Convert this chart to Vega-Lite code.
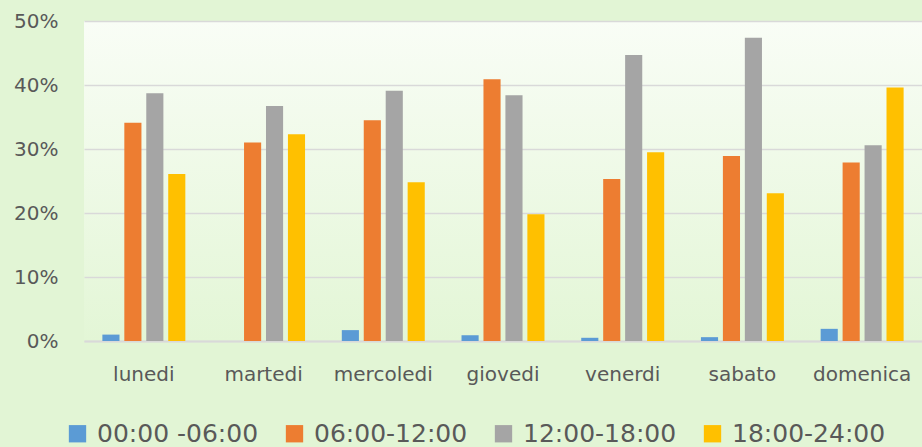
{
  "$schema": "https://vega.github.io/schema/vega-lite/v6.json",
  "autosize": "none",
  "width": 838,
  "height": 320,
  "padding": {"left": 84, "top": 21, "right": 0, "bottom": 106},
  "background": "#e2f5d5",
  "config": {
    "view": {
      "stroke": null,
      "fill": {
        "gradient": "linear",
        "x1": 0, "y1": 0, "x2": 0, "y2": 1,
        "stops": [
          {"offset": 0, "color": "#f9fdf6"},
          {"offset": 1, "color": "#e3f6d6"}
        ]
      }
    },
    "axis": {
      "labelFont": "DejaVu Sans",
      "labelColor": "#595959",
      "labelFontSize": 20,
      "ticks": false,
      "title": null
    }
  },
  "data": {
    "values": [
      {"day": "lunedi", "slot": "00:00 -06:00", "value": 0.010},
      {"day": "lunedi", "slot": "06:00-12:00", "value": 0.341},
      {"day": "lunedi", "slot": "12:00-18:00", "value": 0.387},
      {"day": "lunedi", "slot": "18:00-24:00", "value": 0.261},
      {"day": "martedi", "slot": "00:00 -06:00", "value": 0.0},
      {"day": "martedi", "slot": "06:00-12:00", "value": 0.310},
      {"day": "martedi", "slot": "12:00-18:00", "value": 0.367},
      {"day": "martedi", "slot": "18:00-24:00", "value": 0.323},
      {"day": "mercoledi", "slot": "00:00 -06:00", "value": 0.017},
      {"day": "mercoledi", "slot": "06:00-12:00", "value": 0.345},
      {"day": "mercoledi", "slot": "12:00-18:00", "value": 0.391},
      {"day": "mercoledi", "slot": "18:00-24:00", "value": 0.248},
      {"day": "giovedi", "slot": "00:00 -06:00", "value": 0.009},
      {"day": "giovedi", "slot": "06:00-12:00", "value": 0.409},
      {"day": "giovedi", "slot": "12:00-18:00", "value": 0.384},
      {"day": "giovedi", "slot": "18:00-24:00", "value": 0.198},
      {"day": "venerdi", "slot": "00:00 -06:00", "value": 0.005},
      {"day": "venerdi", "slot": "06:00-12:00", "value": 0.253},
      {"day": "venerdi", "slot": "12:00-18:00", "value": 0.447},
      {"day": "venerdi", "slot": "18:00-24:00", "value": 0.295},
      {"day": "sabato", "slot": "00:00 -06:00", "value": 0.006},
      {"day": "sabato", "slot": "06:00-12:00", "value": 0.289},
      {"day": "sabato", "slot": "12:00-18:00", "value": 0.474},
      {"day": "sabato", "slot": "18:00-24:00", "value": 0.231},
      {"day": "domenica", "slot": "00:00 -06:00", "value": 0.019},
      {"day": "domenica", "slot": "06:00-12:00", "value": 0.279},
      {"day": "domenica", "slot": "12:00-18:00", "value": 0.306},
      {"day": "domenica", "slot": "18:00-24:00", "value": 0.396}
    ]
  },
  "mark": {"type": "bar"},
  "encoding": {
    "x": {
      "field": "day",
      "type": "nominal",
      "sort": ["lunedi", "martedi", "mercoledi", "giovedi", "venerdi", "sabato", "domenica"],
      "scale": {"paddingInner": 0.307, "paddingOuter": 0.1535},
      "axis": {
        "labelAngle": 0,
        "labelPadding": 23,
        "domain": true,
        "domainColor": "#d9d9d9",
        "domainWidth": 2,
        "grid": false
      }
    },
    "xOffset": {
      "field": "slot",
      "type": "nominal",
      "sort": ["00:00 -06:00", "06:00-12:00", "12:00-18:00", "18:00-24:00"],
      "scale": {"paddingInner": 0.22, "paddingOuter": 0}
    },
    "y": {
      "field": "value",
      "type": "quantitative",
      "scale": {"domain": [0, 0.5], "nice": false},
      "axis": {
        "format": "~%",
        "values": [0, 0.1, 0.2, 0.3, 0.4, 0.5],
        "labelPadding": 26,
        "domain": false,
        "grid": true,
        "gridColor": "#d9d9d9",
        "gridWidth": 1.6
      }
    },
    "color": {
      "field": "slot",
      "type": "nominal",
      "sort": ["00:00 -06:00", "06:00-12:00", "12:00-18:00", "18:00-24:00"],
      "scale": {
        "domain": ["00:00 -06:00", "06:00-12:00", "12:00-18:00", "18:00-24:00"],
        "range": ["#5b9bd5", "#ed7d31", "#a5a5a5", "#ffc000"]
      },
      "legend": {
        "title": null,
        "orient": "none",
        "direction": "horizontal",
        "legendX": -19,
        "legendY": 400,
        "padding": 0,
        "symbolType": "square",
        "symbolSize": 300,
        "symbolStrokeWidth": 0,
        "symbolOpacity": 1,
        "labelFont": "DejaVu Sans",
        "labelFontSize": 25,
        "labelColor": "#595959",
        "labelOffset": 7,
        "columnPadding": 23,
        "labelLimit": 300
      }
    }
  }
}
